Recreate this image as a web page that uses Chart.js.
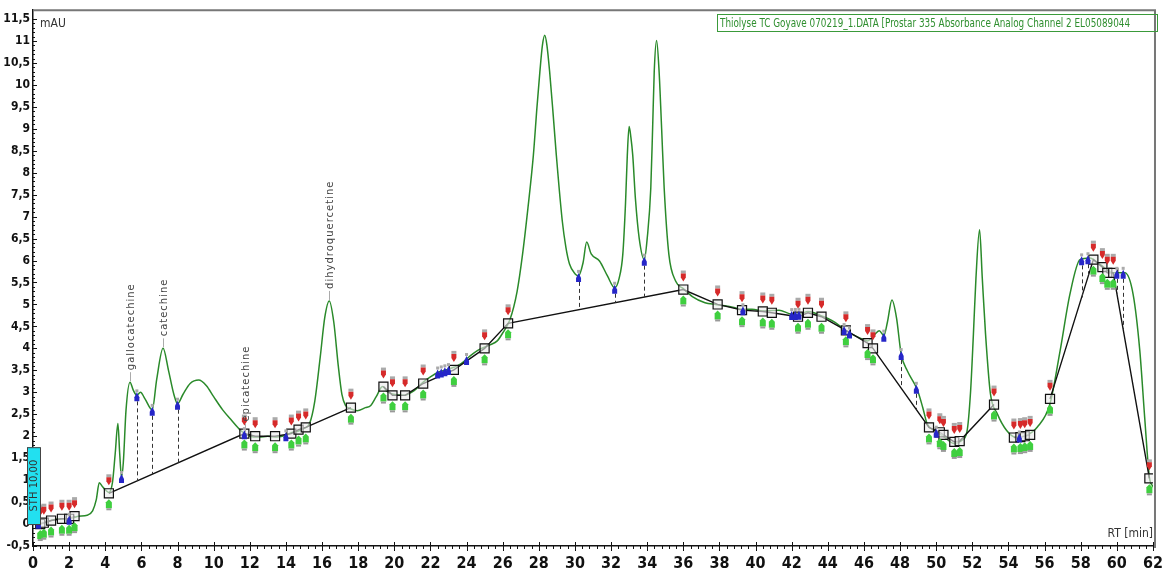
<!DOCTYPE html>
<html>
<head>
<meta charset="utf-8">
<script src="https://cdn.jsdelivr.net/npm/chart.js@4/dist/chart.umd.min.js"></script>
<style>
html, body { margin: 0; padding: 0; background: #fff; }
</style>
</head>
<body>
<canvas id="chart1" width="1171" height="575"></canvas>
<script>
// chromatogram trace (RT in min, signal in mAU)
var rtTime = [0.0, 0.5, 1.0, 1.5, 2.0, 2.5, 3.0, 3.3, 3.5, 3.67, 3.85, 4.0, 4.2, 4.4, 4.55, 4.7, 4.8, 4.9, 5.0, 5.15,
	5.37, 5.55, 5.75, 5.95, 6.2, 6.6, 6.85, 7.2, 7.5, 7.8, 8.0, 8.3, 8.7, 9.17, 9.6, 10.0, 10.5, 11.0, 11.5, 11.73,
	12.0, 12.5, 13.0, 13.5, 14.0, 14.3, 14.7, 15.0, 15.3, 15.6, 15.9, 16.15, 16.4, 16.65, 16.9, 17.1, 17.3, 17.6, 17.95, 18.4,
	18.7, 19.0, 19.35, 19.6, 19.9, 20.5, 21.1, 21.6, 22.0, 22.4, 22.8, 23.3, 23.7, 24.2, 24.6, 24.95, 25.3, 25.7, 26.0, 26.4,
	26.8, 27.1, 27.4, 27.7, 27.9, 28.06, 28.2, 28.33, 28.45, 28.6, 28.8, 28.97, 29.3, 29.5, 29.7, 30.0, 30.2, 30.45, 30.65, 30.9,
	31.36, 31.8, 32.2, 32.45, 32.65, 32.8, 32.9, 33.0, 33.1, 33.2, 33.35, 33.56, 33.84, 34.0, 34.2, 34.3, 34.39, 34.52, 34.66, 34.8,
	34.94, 35.2, 35.58, 36.0, 36.5, 37.2, 37.8, 38.3, 38.8, 39.2, 39.8, 40.5, 41.3, 42.0, 42.5, 42.9, 43.3, 43.66, 44.0, 44.4,
	45.03, 45.7, 46.2, 46.6, 46.85, 47.1, 47.3, 47.55, 47.8, 48.06, 48.4, 48.8, 48.97, 49.25, 49.5, 49.9, 50.45, 51.0, 51.4, 51.7,
	51.9, 52.06, 52.2, 52.4, 52.55, 52.73, 53.0, 53.37, 53.9, 54.39, 55.0, 55.6, 56.3, 56.86, 57.4, 57.96, 58.5, 59.07, 59.8, 60.44,
	60.9, 61.27, 61.54, 61.8, 62.0];
var rtValue = [0.05, 0.02, 0.08, 0.12, 0.12, 0.18, 0.2, 0.3, 0.55, 0.94, 0.85, 0.78, 0.72, 0.95, 1.6, 2.29, 1.6, 1.07, 1.4, 2.6,
	3.23, 3.05, 2.93, 3.0, 2.85, 2.6, 3.3, 4.0, 3.5, 2.95, 2.74, 2.95, 3.2, 3.28, 3.15, 2.9, 2.6, 2.36, 2.13, 2.06,
	2.0, 1.98, 2.0, 1.98, 2.02, 2.08, 2.12, 2.18, 2.28, 2.8, 3.8, 4.7, 5.08, 4.6, 3.6, 2.95, 2.7, 2.62, 2.58, 2.65,
	2.7, 2.9, 3.13, 3.02, 2.96, 2.93, 3.04, 3.23, 3.35, 3.45, 3.5, 3.57, 3.65, 3.83, 3.95, 4.02, 4.08, 4.17, 4.35, 4.65,
	5.3, 6.14, 7.2, 8.4, 9.5, 10.3, 10.9, 11.13, 10.9, 10.3, 9.3, 8.4, 6.9, 6.3, 5.92, 5.7, 5.65, 5.95, 6.42, 6.15,
	5.99, 5.65, 5.38, 5.6, 6.14, 7.3, 8.4, 9.05, 8.8, 8.4, 7.4, 6.5, 6.02, 6.5, 7.65, 9.0, 10.3, 11.01, 10.3, 9.0,
	7.65, 6.14, 5.53, 5.36, 5.18, 5.04, 5.0, 4.97, 4.93, 4.89, 4.89, 4.85, 4.87, 4.78, 4.79, 4.84, 4.8, 4.74, 4.68, 4.59,
	4.4, 4.25, 4.17, 4.32, 4.4, 4.29, 4.6, 5.1, 4.7, 3.87, 3.49, 3.19, 3.04, 2.66, 2.28, 2.13, 1.98, 1.83, 1.9, 2.1,
	3.0, 4.33, 5.6, 6.7, 5.6, 4.33, 2.97, 2.52, 2.13, 1.98, 2.02, 2.21, 2.74, 3.95, 5.23, 6.02, 6.06, 5.91, 5.72, 5.72,
	5.23, 3.95, 2.43, 1.07, 0.85];

// integration baseline (null = no line)
var baseTime = [0.4, 0.6, 1.0, 1.6, 2.0, 2.3, 3.0, 4.2, 11.7, 12.3, 13.4, 14.3, 14.7, 15.1, 17.6, 18.5, 19.4, 19.9, 20.6, 21.6,
	23.3, 25.0, 26.3, 36.0, 37.9, 39.25, 40.4, 40.9, 42.35, 42.9, 43.65, 45.0, 46.2, 46.5, 49.6, 50.2, 50.4, 51.0, 51.3, 53.2,
	53.8, 54.3, 54.66, 54.9, 55.2, 55.8, 56.3, 58.7, 59.2, 59.47, 59.8, 61.8];
var baseValue = [0.0, 0.03, 0.08, 0.12, 0.12, 0.18, null, 0.7, 2.06, 2.0, 2.0, 2.06, 2.15, 2.2, 2.65, null, 3.13, 2.93, 2.93, 3.2,
	3.51, 4.0, 4.57, 5.34, 5.0, 4.87, 4.84, 4.81, 4.72, 4.81, 4.72, 4.41, 4.12, 4.0, 2.2, 2.09, 2.03, 1.87, 1.89, 2.72,
	null, 1.97, 1.98, 2.0, 2.03, null, 2.85, 6.02, 5.85, 5.72, 5.72, 1.04];

var blueTimes = [0.3, 2.0, 4.9, 5.75, 6.6, 8.0, 11.7, 14.0, 22.4, 22.6, 22.8, 23.0, 24.0, 30.2, 32.2, 33.84, 39.3, 42.0, 42.2, 42.4,
	44.9, 45.2, 47.1, 48.06, 48.9, 50.0, 54.6, 58.05, 58.4, 60.0, 60.35];
var dropTimes = [5.75, 6.6, 8.0, 30.2, 32.2, 33.84, 48.06, 48.9, 58.05, 58.4, 60.0, 60.35];

var peakNames = ['gallocatechine', 'catechine', 'epicatechine', 'dihydroquercetine'];
var peakTimes = [5.37, 7.2, 11.73, 16.4];

var traceName = 'Thiolyse TC Goyave 070219_1.DATA [Prostar 335 Absorbance Analog Channel 2 EL05089044';
var narrowFont = "'Liberation Sans Narrow', 'DejaVu Sans Condensed', 'Arial Narrow', sans-serif";

function interp(ts, vs, t) {
	for (var i = 0; i < ts.length - 1; i++) {
		if (t >= ts[i] && t <= ts[i + 1]) {
			if (vs[i] == null || vs[i + 1] == null) return null;
			var f = (t - ts[i]) / (ts[i + 1] - ts[i]);
			return vs[i] + f * (vs[i + 1] - vs[i]);
		}
	}
	return null;
}

var decor = {
	id: 'decor',
	afterDatasetsDraw: function(chart) {
		var ctx = chart.ctx;
		var xs = chart.scales.x, ys = chart.scales.y;
		ctx.save();
		// drop lines
		ctx.strokeStyle = '#333';
		ctx.lineWidth = 1;
		ctx.setLineDash([4, 3]);
		dropTimes.forEach(function(t) {
			var v = interp(rtTime, rtValue, t);
			var b = interp(baseTime, baseValue, t);
			if (v == null || b == null) return;
			var px = Math.round(xs.getPixelForValue(t)) + 0.5;
			ctx.beginPath();
			ctx.moveTo(px, ys.getPixelForValue(v) + 6);
			ctx.lineTo(px, ys.getPixelForValue(b));
			ctx.stroke();
		});
		ctx.setLineDash([]);
		// start / end markers around each square
		baseTime.forEach(function(t, i) {
			if (baseValue[i] == null) return;
			var px = xs.getPixelForValue(t), py = ys.getPixelForValue(baseValue[i]);
			ctx.fillStyle = '#aaa';
			ctx.fillRect(px - 2.5, py - 19, 5, 3);
			ctx.fillStyle = '#d62a2a';
			ctx.beginPath();
			ctx.moveTo(px - 2.5, py - 16); ctx.lineTo(px + 2.5, py - 16);
			ctx.lineTo(px + 2.5, py - 12); ctx.lineTo(px, py - 8); ctx.lineTo(px - 2.5, py - 12);
			ctx.closePath(); ctx.fill();
			ctx.fillStyle = '#3fcf3f';
			ctx.beginPath();
			ctx.moveTo(px, py + 6); ctx.lineTo(px + 3, py + 9);
			ctx.lineTo(px + 3, py + 15); ctx.lineTo(px - 3, py + 15); ctx.lineTo(px - 3, py + 9);
			ctx.closePath(); ctx.fill();
			ctx.fillStyle = '#999';
			ctx.fillRect(px - 2.5, py + 15, 5, 2);
		});
		// valley markers
		blueTimes.forEach(function(t) {
			var v = interp(rtTime, rtValue, t);
			if (v == null) return;
			var px = xs.getPixelForValue(t), py = ys.getPixelForValue(v);
			ctx.fillStyle = '#aaa';
			ctx.fillRect(px - 1.5, py - 6, 3, 3);
			ctx.fillStyle = '#2626c8';
			ctx.beginPath();
			ctx.moveTo(px, py - 3); ctx.lineTo(px + 2.5, py + 2);
			ctx.lineTo(px + 2.5, py + 6); ctx.lineTo(px - 2.5, py + 6); ctx.lineTo(px - 2.5, py + 2);
			ctx.closePath(); ctx.fill();
		});
		// peak names
		ctx.font = "10px 'DejaVu Sans', sans-serif";
		ctx.letterSpacing = '1px';
		ctx.fillStyle = '#444';
		ctx.strokeStyle = '#aaa';
		peakNames.forEach(function(name, i) {
			var v = interp(rtTime, rtValue, peakTimes[i]);
			var px = Math.round(xs.getPixelForValue(peakTimes[i])) + 0.5;
			var py = ys.getPixelForValue(v);
			ctx.beginPath();
			ctx.moveTo(px, py - 1);
			ctx.lineTo(px, py - 10);
			ctx.stroke();
			ctx.save();
			ctx.translate(px + 1, py - 12);
			ctx.rotate(-Math.PI / 2);
			ctx.textAlign = 'left';
			ctx.textBaseline = 'middle';
			ctx.fillText(name, 0, 0);
			ctx.restore();
		});
		ctx.letterSpacing = '0px';
		ctx.restore();
	},
	afterDraw: function(chart) {
		var ctx = chart.ctx;
		var xs = chart.scales.x, ys = chart.scales.y;
		var a = chart.chartArea;
		ctx.save();
		// frame
		ctx.strokeStyle = '#777';
		ctx.lineWidth = 2;
		ctx.beginPath();
		ctx.moveTo(a.left, a.top);
		ctx.lineTo(a.right + 2, a.top);
		ctx.lineTo(a.right + 2, a.bottom + 2);
		ctx.stroke();
		// axis ticks
		ctx.strokeStyle = '#111';
		ctx.lineWidth = 1;
		ctx.beginPath();
		for (var k = -5; k <= 115; k++) {
			var py = Math.round(ys.getPixelForValue(k / 10)) + 0.5;
			var len = (k % 5 === 0) ? 4 : 2;
			ctx.moveTo(a.left, py);
			ctx.lineTo(a.left + len, py);
		}
		for (var m = 0; m <= 155; m++) {
			var px = Math.round(xs.getPixelForValue(m * 0.4)) + 0.5;
			if (m % 5 === 0) {
				ctx.moveTo(px, a.bottom - 4);
				ctx.lineTo(px, a.bottom + 5);
			} else {
				ctx.moveTo(px, a.bottom);
				ctx.lineTo(px, a.bottom + 3);
			}
		}
		ctx.stroke();
		// unit labels
		ctx.fillStyle = '#333';
		ctx.font = '12px ' + narrowFont;
		ctx.textBaseline = 'top';
		ctx.textAlign = 'left';
		ctx.fillText('mAU', a.left + 7, a.top + 8);
		ctx.textAlign = 'right';
		ctx.textBaseline = 'bottom';
		ctx.fillText('RT [min]', a.right, a.bottom - 6);
		// trace name box
		ctx.strokeStyle = '#3a9a3a';
		ctx.lineWidth = 1;
		ctx.strokeRect(717.5, 14.5, 440, 17);
		ctx.fillStyle = '#2f8f2f';
		ctx.font = '13px ' + narrowFont;
		ctx.textAlign = 'left';
		ctx.textBaseline = 'middle';
		ctx.fillText(traceName, 720, 23.5, 410);
		// threshold box
		var bx = xs.getPixelForValue(0) - 6;
		var by = ys.getPixelForValue(1.75);
		var bh = ys.getPixelForValue(0) - by;
		ctx.fillStyle = '#22e0f0';
		ctx.fillRect(bx, by, 13, bh);
		ctx.strokeStyle = '#444';
		ctx.strokeRect(bx + 0.5, by + 0.5, 13, bh);
		ctx.save();
		ctx.translate(bx + 7, by + bh / 2);
		ctx.rotate(-Math.PI / 2);
		ctx.fillStyle = '#333';
		ctx.font = "10px 'DejaVu Sans', sans-serif";
		ctx.textAlign = 'center';
		ctx.textBaseline = 'middle';
		ctx.fillText('STH 10,00', 0, 0);
		ctx.restore();
		ctx.restore();
	}
};

var ctx = document.getElementById('chart1').getContext('2d');
new Chart(ctx, {
	type: 'line',
	data: {
		datasets: [{
			label: 'baseline',
			data: baseTime.map(function(t, i) { return { x: t, y: baseValue[i] }; }),
			borderColor: '#111',
			borderWidth: 1.4,
			pointStyle: 'rect',
			pointRadius: 6.4,
			pointBorderColor: '#111',
			pointBorderWidth: 1.2,
			pointBackgroundColor: 'rgba(235,235,235,0.6)',
			spanGaps: false,
			tension: 0,
			order: 1
		}, {
			label: traceName,
			data: rtTime.map(function(t, i) { return { x: t, y: rtValue[i] }; }),
			borderColor: '#2a8a2a',
			borderWidth: 1.5,
			pointRadius: 0,
			cubicInterpolationMode: 'monotone',
			order: 2
		}]
	},
	options: {
		responsive: false,
		animation: false,
		devicePixelRatio: 1,
		layout: { padding: { top: 8, right: 11, left: 0, bottom: 0 } },
		plugins: {
			legend: { display: false },
			tooltip: { enabled: false }
		},
		scales: {
			x: {
				type: 'linear',
				min: 0,
				max: 62,
				afterFit: function(s) { s.height = 29; },
				grid: { display: false, drawTicks: false },
				border: { display: true, color: '#111', width: 1.5 },
				ticks: {
					stepSize: 2,
					padding: 8,
					color: '#111',
					maxRotation: 0,
					autoSkip: false,
					font: { family: narrowFont, size: 16, weight: 'bold' }
				}
			},
			y: {
				min: -0.5,
				max: 11.7,
				afterFit: function(s) { s.width = 33; },
				afterBuildTicks: function(s) {
					var t = [];
					for (var k = -1; k <= 23; k++) t.push({ value: k * 0.5 });
					s.ticks = t;
				},
				grid: { display: false, drawTicks: false },
				border: { display: true, color: '#111', width: 1.5 },
				ticks: {
					stepSize: 0.5,
					padding: 3,
					color: '#111',
					autoSkip: false,
					font: { family: narrowFont, size: 12, weight: 'bold' },
					callback: function(v) { return (Math.round(v * 10) / 10).toString().replace('.', ','); }
				}
			}
		}
	},
	plugins: [decor]
});
</script>
</body>
</html>
